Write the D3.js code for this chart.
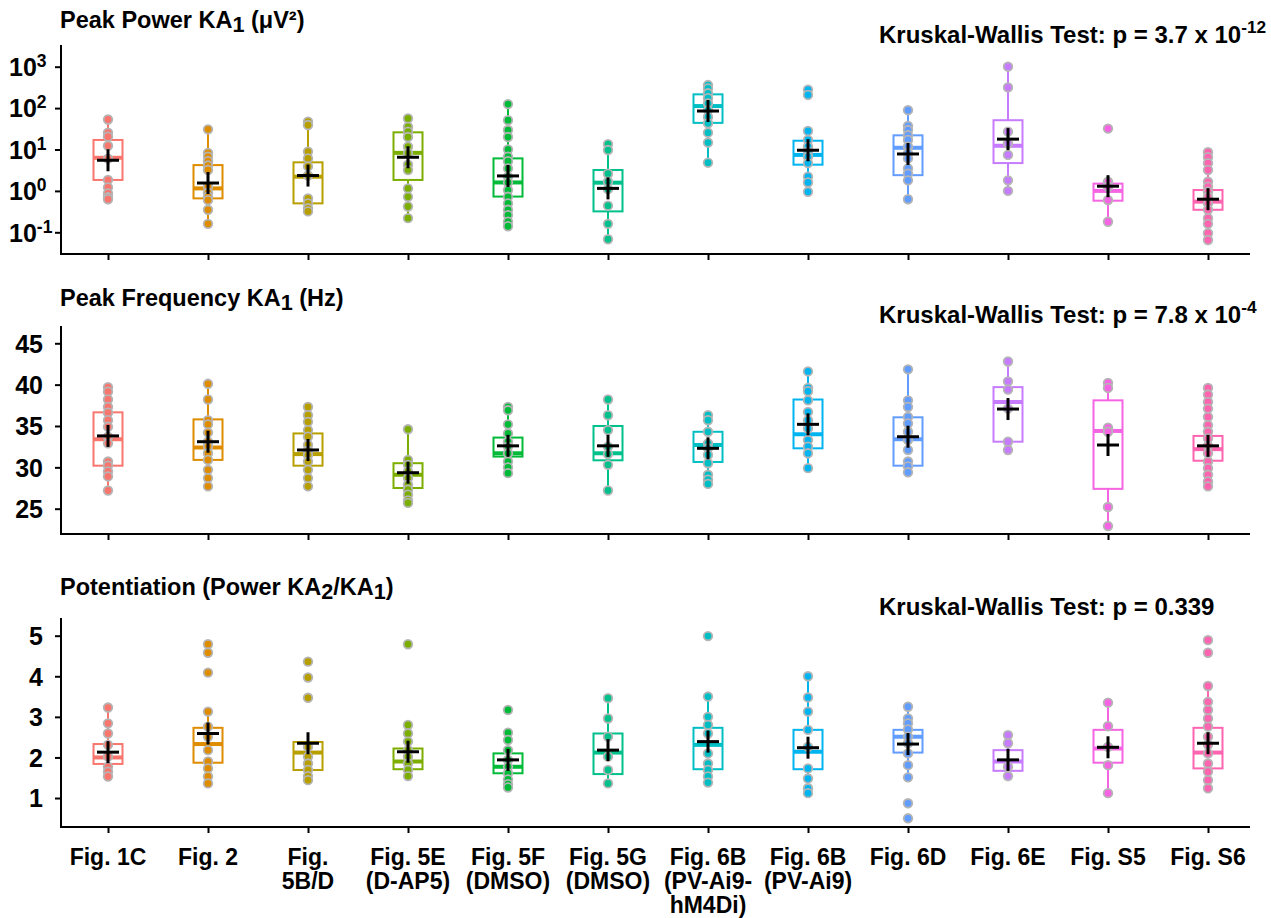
<!DOCTYPE html>
<html><head><meta charset="utf-8">
<script src="https://cdn.jsdelivr.net/npm/d3@7"></script>
<style>
body{margin:0;background:#fff}
text{font-family:"Liberation Sans",Arial,Helvetica,sans-serif;font-weight:bold;fill:#000}
</style>
</head><body>
<svg id="chart" width="1271" height="918"></svg>
<script>
// ---------- DATA ----------
const categories = ["Fig. 1C","Fig. 2","Fig. 5B/D","Fig. 5E (D-AP5)","Fig. 5F (DMSO)","Fig. 5G (DMSO)",
  "Fig. 6B (PV-Ai9-hM4Di)","Fig. 6B (PV-Ai9)","Fig. 6D","Fig. 6E","Fig. S5","Fig. S6"];
const categoryLabels = [["Fig. 1C"],["Fig. 2"],["Fig.","5B/D"],["Fig. 5E","(D-AP5)"],["Fig. 5F","(DMSO)"],
  ["Fig. 5G","(DMSO)"],["Fig. 6B","(PV-Ai9-","hM4Di)"],["Fig. 6B","(PV-Ai9)"],["Fig. 6D"],["Fig. 6E"],["Fig. S5"],["Fig. S6"]];
const colors = ["#F8766D","#DE8C00","#B79F00","#7CAE00","#00BA38","#00C08B",
  "#00BFC4","#00B4F0","#619CFF","#C77CFF","#F564E3","#FF64B0"];

// Peak power (uV^2), log scale
const powerPoints = [
  [53,25.5,20.4,12.3,6,1.84,1.22,0.87,0.70,0.63],
  [30.7,8.3,6.7,5.2,4.1,3.2,1.26,0.9,0.72,0.6,0.35,0.16],
  [47,39,8.9,6.1,3.9,2.35,0.66,0.5,0.38,0.32],
  [56,35,27,20,11.7,8.2,4.3,3.2,1.15,0.72,0.42,0.22],
  [125,51,29.5,20,10,6.7,5.2,3.5,2.2,1.6,1.05,0.72,0.5,0.35,0.26,0.18,0.14],
  [13.5,9.7,2.6,1.66,1.1,0.44,0.16,0.068],
  [360,300,228,173,130,89,61,43,25.5,14.7,4.8],
  [280,208,28,17,11.7,8.9,6.7,4.7,2.2,1.6,0.95],
  [89,37,29.5,22,17,11.7,8.2,6.1,3.5,2.6,1.8,0.63],
  [1000,316,27,14,7.4,1.8,1.0],
  [32,1.66,1.26,0.6,0.18],
  [8.6,6.5,4.7,3.2,1.66,1.26,0.95,0.72,0.5,0.35,0.22,0.16,0.095,0.065]
];
// [whisker low, q1, median, q3, whisker high]
const powerBox = [
  [0.63,1.84,6.3,17,53],[0.16,0.66,1.15,4.2,30.7],[0.32,0.5,2.2,4.9,45],[0.22,1.84,8.3,26,56],
  [0.14,0.73,1.6,6.1,125],[0.068,0.32,1.58,3.2,13.5],[4.8,44,112,215,360],[0.95,4.3,7.4,16.3,28],
  [0.63,2.4,11,22,89],[1.0,4.7,12.3,51,1000],[0.18,0.58,1.0,1.5,1.66],[0.065,0.35,0.55,1.05,8.6]
];
const powerMean = [5.5,1.55,2.35,6.5,2.3,1.15,85,9.6,7.8,17.8,1.3,0.63];
const powerTicks = [0.1,1,10,100,1000];

// Peak frequency (Hz)
const freqPoints = [
  [39.7,39.15,38.2,37.3,36.6,35.7,34.9,33.7,32.9,30.7,30.2,29.5,28.9,27.2],
  [40.1,38.2,35.7,35.2,34.2,33.1,32.5,31.7,30.9,29.7,28.7,27.7],
  [37.3,36.3,35.5,34.5,33.7,32.7,32.0,31.5,30.7,29.7,28.7,27.7],
  [34.6,30.9,30.3,29.5,28.7,27.9,27.3,26.7,26.0,25.7],
  [37.3,36.9,35.2,34.1,33.1,32.5,31.7,30.7,30.0,29.3],
  [38.2,36.3,34.5,32.5,31.6,30.3,27.2],
  [36.3,35.7,34.3,32.9,32.3,31.5,30.5,29.1,28.5,28.0],
  [41.6,39.6,39.2,38.1,36.7,35.7,34.7,33.3,32.5,31.7,29.9],
  [41.85,38.1,37.3,36.1,35.3,34.3,33.3,32.1,30.7,30.1,29.4],
  [42.8,40.4,39.4,37.1,33.1,32.1],
  [40.2,39.6,34.8,34.3,25.2,22.9],
  [39.6,38.8,37.9,37.1,36.1,35.1,34.3,33.5,32.6,31.7,30.7,29.9,29.1,28.3,27.7]
];
const freqBox = [
  [27.2,30.2,33.4,36.65,39.7],[27.7,30.9,32.4,35.8,40.1],[27.7,30.2,31.6,34.1,37.3],[25.7,27.5,29.1,30.5,34.6],
  [29.3,31.3,31.7,33.6,37.3],[27.2,30.85,31.7,35.0,38.2],[28.0,30.65,32.7,34.3,36.3],[29.9,32.3,34.0,38.2,41.6],
  [29.4,30.2,33.4,36.05,41.85],[32.1,33.1,37.9,39.7,42.8],[22.9,27.4,34.4,38.1,40.2],[27.7,30.8,32.2,33.8,39.6]
];
const freqMean = [33.8,33.1,32.1,29.35,32.6,32.6,32.3,35.2,33.7,37.05,32.7,32.6];
const freqTicks = [25,30,35,40,45];

// Potentiation (Power KA2/KA1)
const potPoints = [
  [3.23,2.84,2.59,2.31,2.02,1.77,1.65,1.53],
  [4.79,4.58,4.09,3.13,2.76,2.51,2.18,1.9,1.73,1.53,1.36],
  [4.36,3.97,3.47,2.26,2.02,1.85,1.69,1.54,1.44],
  [4.79,2.8,2.59,2.39,2.18,2.02,1.85,1.69,1.54],
  [3.17,2.61,2.43,2.18,1.94,1.77,1.61,1.46,1.34,1.26],
  [3.46,2.96,2.51,2.02,1.69,1.36],
  [4.99,3.5,3.0,2.8,2.59,2.1,1.85,1.69,1.53,1.38],
  [4.0,3.48,3.13,2.68,2.26,1.73,1.48,1.24,1.12],
  [3.25,2.96,2.84,2.69,2.51,2.35,2.1,1.81,1.51,0.87,0.5],
  [2.55,2.35,1.77,1.54],
  [3.35,2.77,2.26,1.81,1.12],
  [4.89,4.58,3.76,3.37,3.17,2.96,2.76,2.51,2.31,2.1,1.85,1.65,1.44,1.24]
];
const potBox = [
  [1.53,1.84,2.0,2.33,3.23],[1.36,1.87,2.33,2.73,3.13],[1.44,1.69,2.12,2.38,2.5],[1.54,1.71,1.9,2.22,2.8],
  [1.26,1.61,1.77,2.1,2.61],[1.36,1.59,2.12,2.59,3.46],[1.38,1.71,2.31,2.73,3.5],[1.12,1.71,2.14,2.68,4.0],
  [1.51,2.12,2.51,2.68,3.25],[1.54,1.67,1.9,2.18,2.55],[1.12,1.87,2.22,2.68,3.35],[1.24,1.73,2.12,2.73,3.76]
];
const potMean = [2.13,2.59,2.35,2.14,1.94,2.18,2.39,2.24,2.33,1.94,2.25,2.35];
const potTicks = [1,2,3,4,5];

// ---------- LAYOUT ----------
const svg = d3.select("#chart");
const left = 61, right = 1250;
const FS_TITLE = 23.5, FS_P = 24, FS_TICK = 25, FS_X = 23;
const x = d3.scalePoint().domain(categories).range([108, 1208]);

const panels = [
  {top:45, bottom:254, log:true, domain:[Math.pow(10,-1.524), Math.pow(10,3.524)], points:powerPoints, box:powerBox, mean:powerMean, ticks:powerTicks,
   title:[["Peak Power KA",0],["1",1],[" (μV²)",0]], titleY:28, pText:"Kruskal-Wallis Test: p = 3.7 x 10", pSup:"-12", pY:43},
  {top:326, bottom:534, log:false, domain:[21.94,47.09], points:freqPoints, box:freqBox, mean:freqMean, ticks:freqTicks,
   title:[["Peak Frequency KA",0],["1",1],[" (Hz)",0]], titleY:306, pText:"Kruskal-Wallis Test: p = 7.8 x 10", pSup:"-4", pY:323},
  {top:618, bottom:827, log:false, domain:[0.286,5.436], points:potPoints, box:potBox, mean:potMean, ticks:potTicks,
   title:[["Potentiation (Power KA",0],["2",1],["/KA",0],["1",1],[")",0]], titleY:595, pText:"Kruskal-Wallis Test: p = 0.339", pSup:"", pY:615}
];

const bw = 14.5;
panels.forEach((p, pi) => {
  const y = (p.log ? d3.scaleLog() : d3.scaleLinear()).domain(p.domain).range([p.bottom, p.top]);
  const g = svg.append("g");

  // title
  const t = g.append("text").attr("x", 60).attr("y", p.titleY).attr("font-size", FS_TITLE);
  let lowered = false;
  p.title.forEach(([s, sub]) => {
    const ts = t.append("tspan").text(s);
    if (sub && !lowered) { ts.attr("dy", 4).attr("font-size", FS_TITLE*0.92); lowered = true; }
    else if (sub) { ts.attr("font-size", FS_TITLE*0.92); }
    else if (lowered) { ts.attr("dy", -4); lowered = false; }
  });
  // p-value
  const kt = g.append("text").attr("x", 879).attr("y", p.pY).attr("font-size", FS_P).text(p.pText);
  if (p.pSup) kt.append("tspan").attr("dy", -10).attr("font-size", FS_P*0.72).text(p.pSup);

  // y axis
  const ya = d3.axisLeft(y).tickValues(p.ticks).tickSize(6).tickSizeOuter(0).tickPadding(12)
     .tickFormat(p.log ? (d => "10") : d3.format("d"));
  const yg = g.append("g").attr("transform", `translate(${left},0)`).call(ya);
  yg.select(".domain").remove();
  yg.selectAll(".tick line").attr("stroke", "#000").attr("stroke-width", 2);
  yg.selectAll(".tick text").attr("font-size", FS_TICK).attr("font-family", null).attr("dy", "0.35em");
  if (p.log) {
    yg.selectAll(".tick text").each(function(d) {
      const e = Math.round(Math.log10(d));
      const tx = d3.select(this);
      tx.text("").attr("x", 9 - left).attr("text-anchor", "start");
      tx.append("tspan").text("10");
      tx.append("tspan").attr("dy", -9).attr("font-size", FS_TICK*0.7).text(e);
    });
  }
  g.append("line").attr("x1", left).attr("x2", left).attr("y1", p.top).attr("y2", p.bottom)
    .attr("stroke", "#000").attr("stroke-width", 2);

  // x axis
  const xa = d3.axisBottom(x).tickSize(6).tickSizeOuter(0).tickFormat("");
  const xg = g.append("g").attr("transform", `translate(0,${p.bottom})`).call(xa);
  xg.select(".domain").remove();
  xg.selectAll(".tick line").attr("stroke", "#000").attr("stroke-width", 2);
  g.append("line").attr("x1", left-1).attr("x2", right).attr("y1", p.bottom).attr("y2", p.bottom)
    .attr("stroke", "#000").attr("stroke-width", 2);

  // boxes
  categories.forEach((c, i) => {
    const cx = x(c), col = colors[i], b = p.box[i];
    const bg = g.append("g");
    bg.append("line").attr("x1", cx).attr("x2", cx).attr("y1", y(b[0])).attr("y2", y(b[1]))
      .attr("stroke", col).attr("stroke-width", 2);
    bg.append("line").attr("x1", cx).attr("x2", cx).attr("y1", y(b[3])).attr("y2", y(b[4]))
      .attr("stroke", col).attr("stroke-width", 2);
    bg.append("rect").attr("x", cx-bw).attr("width", 2*bw).attr("y", y(b[3])).attr("height", y(b[1])-y(b[3]))
      .attr("fill", "#fff").attr("stroke", col).attr("stroke-width", 2);
    bg.append("line").attr("x1", cx-bw).attr("x2", cx+bw).attr("y1", y(b[2])).attr("y2", y(b[2]))
      .attr("stroke", col).attr("stroke-width", 4);
    bg.selectAll("circle").data(p.points[i]).join("circle")
      .attr("cx", cx).attr("cy", d => y(d)).attr("r", 4.3)
      .attr("fill", col).attr("stroke", "#b5b5b5").attr("stroke-width", 1.8);
    const m = y(p.mean[i]);
    bg.append("line").attr("x1", cx-11).attr("x2", cx+11).attr("y1", m).attr("y2", m)
      .attr("stroke", "#000").attr("stroke-width", 3);
    bg.append("line").attr("x1", cx).attr("x2", cx).attr("y1", m-11).attr("y2", m+11)
      .attr("stroke", "#000").attr("stroke-width", 3);
  });

  // category labels only on bottom panel
  if (pi === 2) {
    categories.forEach((c, i) => {
      const tx = g.append("text").attr("x", x(c)).attr("y", 865).attr("text-anchor", "middle").attr("font-size", FS_X);
      categoryLabels[i].forEach((line, li) => {
        tx.append("tspan").attr("x", x(c)).attr("dy", li === 0 ? 0 : 24).text(line);
      });
    });
  }
});
</script>
</body></html>
